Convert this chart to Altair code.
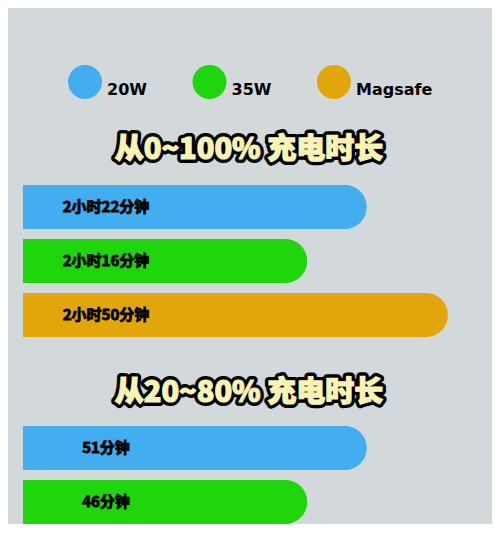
import altair as alt
import pandas as pd

# ---- data ----
series = ["20W", "35W", "Magsafe"]
series_colors = ["#42aef0", "#1ed60b", "#e2a60b"]

titles = ["从0~100% 充电时长", "从20~80% 充电时长"]

# 0-100% charge: bar length (percent of the track width) and text label
full_series = ["20W", "35W", "Magsafe"]
full_len = [73.3, 60.6, 90.6]
full_labels = ["2小时22分钟", "2小时16分钟", "2小时50分钟"]

# 20-80% charge
part_series = ["20W", "35W"]
part_len = [73.3, 60.6]
part_labels = ["51分钟", "46分钟"]

CJK = "Noto Sans CJK SC"
PANEL_W = 469

legend = alt.Legend(
    title=None,
    orient="none",
    legendX=45,
    legendY=-50,
    direction="horizontal",
    columns=3,
    gridAlign="all",
    columnPadding=8.5,
    padding=0,
    symbolType="circle",
    symbolSize=1156,
    symbolStrokeWidth=0,
    symbolOpacity=1,
    labelFont="DejaVu Sans",
    labelFontSize=16,
    labelFontWeight="bold",
    labelColor="black",
    labelOffset=5,
    labelBaseline="top",
)


def bar_panel(cats, lens, labels):
    df = pd.DataFrame({"series": cats, "len": lens, "label": labels})
    n = len(cats)
    y = alt.Y(
        "series:N",
        sort=cats,
        axis=None,
        scale=alt.Scale(paddingInner=10 / 54, paddingOuter=0, align=0),
    )
    base = alt.Chart(df).encode(y=y)
    bars = base.mark_bar(
        cornerRadiusTopRight=22, cornerRadiusBottomRight=22
    ).encode(
        x=alt.X("len:Q", axis=None, scale=alt.Scale(domain=[0, 100], nice=False)),
        color=alt.Color(
            "series:N",
            scale=alt.Scale(domain=series, range=series_colors),
            legend=legend,
        ),
    )
    txt = base.mark_text(
        align="center",
        baseline="middle",
        font=CJK,
        fontSize=15,
        fontWeight="bold",
        color="black",
        stroke="black",
        strokeWidth=0.9,
    ).encode(x=alt.value(83), text="label:N")
    return alt.layer(bars, txt).properties(
        width=PANEL_W, height=round(54 * (n - 10 / 54))
    )


def title_panel(text, height, ymid):
    df = pd.DataFrame({"t": [text]})
    base = alt.Chart(df).encode(
        x=alt.value(226), y=alt.value(ymid), text="t:N"
    )
    outline = base.mark_text(
        font=CJK,
        fontSize=29,
        fontWeight=900,
        align="center",
        baseline="middle",
        color="black",
        stroke="black",
        strokeWidth=8,
        strokeJoin="round",
    )
    fill = base.mark_text(
        font=CJK,
        fontSize=29,
        fontWeight=900,
        align="center",
        baseline="middle",
        color="#faf4b4",
        stroke="#faf4b4",
        strokeWidth=1.2,
        strokeJoin="round",
    )
    return alt.layer(outline, fill).properties(width=PANEL_W, height=height)


chart = (
    alt.vconcat(
        title_panel(titles[0], 70, 35),
        bar_panel(full_series, full_len, full_labels),
        title_panel(titles[1], 89, 56),
        bar_panel(part_series, part_len, part_labels),
        spacing=0,
    )
    .resolve_scale(y="independent", x="independent")
    .properties(padding={"top": 57, "left": 15, "bottom": 0, "right": 0})
    .configure(background="#d3d8db")
    .configure_view(strokeWidth=0)
)

chart.save("out.html", embed_options={"renderer": "svg", "actions": False})
